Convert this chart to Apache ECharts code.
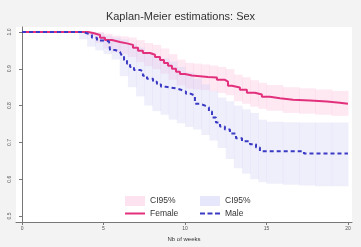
<!DOCTYPE html>
<html>
<head>
    <meta charset="utf8">
    <title>Kaplan-Meier</title>
    <script src="https://cdn.jsdelivr.net/npm/echarts@6/dist/echarts.min.js"></script>
    <style>
        body { margin: 0; background: #f3f3f3; }
    </style>
</head>
<body>
    <div id="main" style="width: 361px;height:247px;"></div>
    <script type="text/javascript">
        // survival curves (weeks / survival)
        var femaleWeeks = [0, 4.05, 4.36, 4.79, 5.09, 5.52, 6.01, 6.44, 6.81, 7.12, 7.42, 7.85, 8.16, 8.47, 8.71, 8.96, 9.2, 9.45, 9.69, 10.0, 10.43, 10.92, 11.41, 11.96, 12.45, 12.64, 12.88, 13.37, 13.8, 14.29, 14.72, 15.21, 15.83, 16.63, 17.67, 18.71, 19.5, 20];
        var femaleSurv  = [1.0, 0.997, 0.992, 0.984, 0.978, 0.973, 0.969, 0.965, 0.957, 0.949, 0.943, 0.938, 0.932, 0.924, 0.916, 0.908, 0.9, 0.892, 0.886, 0.882, 0.88, 0.878, 0.876, 0.87, 0.865, 0.854, 0.849, 0.843, 0.835, 0.83, 0.824, 0.82, 0.816, 0.814, 0.811, 0.808, 0.805, 0.805];

        var maleWeeks = [0, 3.8, 3.93, 4.29, 4.6, 5.03, 5.34, 5.4, 5.71, 6.01, 6.13, 6.26, 6.44, 6.63, 6.87, 7.24, 7.42, 7.67, 8.04, 8.28, 8.53, 8.83, 9.14, 9.45, 9.75, 10.06, 10.37, 10.61, 10.92, 11.23, 11.47, 11.66, 11.9, 12.15, 12.45, 12.76, 13.13, 13.5, 13.99, 14.36, 14.6, 17.3, 20];
        var maleSurv  = [1.0, 0.997, 0.992, 0.984, 0.977, 0.974, 0.973, 0.951, 0.946, 0.943, 0.935, 0.924, 0.914, 0.905, 0.897, 0.893, 0.881, 0.873, 0.865, 0.857, 0.851, 0.849, 0.847, 0.843, 0.838, 0.832, 0.827, 0.805, 0.8, 0.795, 0.784, 0.768, 0.754, 0.743, 0.735, 0.724, 0.711, 0.703, 0.695, 0.686, 0.676, 0.67, 0.67];

        // 95% confidence bands
        var femaleBandWeeks = [0, 4, 4.5, 5, 5.5, 6, 6.5, 7, 7.5, 8, 8.5, 9, 9.5, 10, 10.5, 11, 11.5, 12, 12.5, 13, 13.5, 14, 14.5, 15, 16, 17, 18, 19, 20];
        var femaleLow  = [1.0, 0.99, 0.97, 0.955, 0.945, 0.94, 0.932, 0.918, 0.907, 0.899, 0.887, 0.87, 0.855, 0.846, 0.844, 0.842, 0.839, 0.834, 0.828, 0.812, 0.805, 0.797, 0.791, 0.786, 0.78, 0.778, 0.775, 0.772, 0.77];
        var femaleHigh = [1.0, 1.0, 1.0, 0.995, 0.99, 0.988, 0.985, 0.978, 0.97, 0.965, 0.955, 0.94, 0.925, 0.916, 0.914, 0.912, 0.909, 0.905, 0.899, 0.884, 0.877, 0.869, 0.862, 0.856, 0.85, 0.847, 0.844, 0.84, 0.838];

        var maleBandWeeks = [0, 3.5, 4, 4.5, 5, 5.5, 6, 6.5, 7, 7.5, 8, 8.5, 9, 9.5, 10, 10.5, 11, 11.5, 12, 12.5, 13, 13.5, 14, 14.5, 15, 16, 17, 18, 19, 20];
        var maleLow  = [1.0, 0.98, 0.96, 0.95, 0.94, 0.925, 0.88, 0.85, 0.825, 0.8, 0.785, 0.775, 0.762, 0.752, 0.742, 0.735, 0.72, 0.705, 0.685, 0.655, 0.63, 0.615, 0.6, 0.592, 0.588, 0.585, 0.583, 0.581, 0.581, 0.581];
        var maleHigh = [1.0, 1.0, 1.0, 0.997, 0.99, 0.985, 0.98, 0.968, 0.958, 0.945, 0.935, 0.928, 0.92, 0.905, 0.89, 0.873, 0.858, 0.84, 0.822, 0.812, 0.8, 0.79, 0.78, 0.762, 0.756, 0.755, 0.754, 0.754, 0.754, 0.754];

        var xTicks = [0, 5, 10, 15, 20];
        var yTicks = [0.5, 0.6, 0.7, 0.8, 0.9, 1.0];

        function pairs(xs, ys) {
            return xs.map(function (x, i) { return [x, ys[i]]; });
        }
        // band rows: [from, to, low, high], one step each
        function bandRows(xs, lo, hi) {
            var rows = [];
            for (var i = 0; i < xs.length - 1; i++) {
                rows.push([xs[i], xs[i + 1], lo[i], hi[i]]);
            }
            return rows;
        }
        function bandItem(fill) {
            return function (params, api) {
                var p0 = api.coord([api.value(0), api.value(3)]);
                var p1 = api.coord([api.value(1), api.value(2)]);
                return {
                    type: 'rect',
                    shape: { x: p0[0], y: p0[1], width: p1[0] - p0[0] + 0.6, height: p1[1] - p0[1] },
                    style: { fill: fill }
                };
            };
        }

        var pinkFill = 'rgba(250, 175, 212, 0.28)';
        var lavFill = 'rgba(205, 205, 245, 0.33)';
        var femaleColor = '#e2307c';
        var maleColor = '#3a3ac4';
        var font = 'Liberation Sans, Arial, sans-serif';
        var solidIcon = 'path://M0,0h20v2h-20z';
        var dashIcon = 'path://M0,0h5v2h-5z M7.5,0h5v2h-5z M15,0h5v2h-5z';

        var myChart = echarts.init(document.getElementById('main'));
        var option = {
            backgroundColor: '#f3f3f3',
            animation: false,
            textStyle: { fontFamily: font },
            title: {
                text: 'Kaplan-Meier estimations: Sex',
                left: 'center',
                top: 6,
                textStyle: { fontSize: 11, fontWeight: 'normal', color: '#333', fontFamily: font }
            },
            grid: {
                left: 16, right: 9, top: 27, bottom: 24,
                show: true, backgroundColor: '#fff', borderWidth: 0
            },
            legend: [
                { data: [{ name: 'CI95%', icon: 'rect', itemStyle: { color: 'rgba(250,190,220,0.45)' } }],
                  left: 120, top: 191, itemWidth: 20, itemHeight: 10, selectedMode: false,
                  textStyle: { fontSize: 8.5, color: '#333' } },
                { data: [{ name: 'CI95% ', icon: 'rect', itemStyle: { color: 'rgba(215,215,248,0.6)' } }],
                  left: 195, top: 191, itemWidth: 20, itemHeight: 10, selectedMode: false,
                  textStyle: { fontSize: 8.5, color: '#333' } },
                { data: [{ name: 'Female', icon: solidIcon, itemStyle: { color: femaleColor } }],
                  left: 120, top: 204, itemWidth: 20, itemHeight: 2, selectedMode: false,
                  textStyle: { fontSize: 8.5, color: '#333' } },
                { data: [{ name: 'Male', icon: dashIcon, itemStyle: { color: maleColor } }],
                  left: 195, top: 204, itemWidth: 20, itemHeight: 2, selectedMode: false,
                  textStyle: { fontSize: 8.5, color: '#333' } }
            ],
            xAxis: {
                type: 'value',
                min: -0.37, max: 20.25,
                name: 'Nb of weeks',
                nameLocation: 'middle',
                nameGap: 14,
                nameTextStyle: { fontSize: 6, color: '#333' },
                splitLine: { show: false },
                axisLine: { lineStyle: { color: '#777' } },
                axisTick: { customValues: xTicks, length: 3, lineStyle: { color: '#777' } },
                axisLabel: { customValues: xTicks, fontSize: 5, color: '#555', margin: 4 }
            },
            yAxis: {
                type: 'value',
                min: 0.4838, max: 1.0135,
                splitLine: { show: false },
                axisLine: { show: true, lineStyle: { color: '#777' } },
                axisTick: { show: true, customValues: yTicks, length: 3, lineStyle: { color: '#777' } },
                axisLabel: {
                    customValues: yTicks, fontSize: 5, color: '#555', rotate: 90, margin: 4,
                    formatter: function (v) { return v.toFixed(1); }
                }
            },
            series: [
                { name: 'CI95%', type: 'custom', renderItem: bandItem(pinkFill),
                  itemStyle: { color: 'rgba(250,190,220,0.45)' },
                  encode: { x: [0, 1], y: [2, 3] },
                  data: bandRows(femaleBandWeeks, femaleLow, femaleHigh), silent: true, z: 1 },
                { name: 'CI95% ', type: 'custom', renderItem: bandItem(lavFill),
                  itemStyle: { color: 'rgba(215,215,248,0.6)' },
                  encode: { x: [0, 1], y: [2, 3] },
                  data: bandRows(maleBandWeeks, maleLow, maleHigh), silent: true, z: 1 },
                { name: 'Female', type: 'line', step: 'end', symbol: 'none',
                  itemStyle: { color: femaleColor },
                  lineStyle: { color: femaleColor, width: 2 },
                  data: pairs(femaleWeeks, femaleSurv), z: 5 },
                { name: 'Male', type: 'line', step: 'end', symbol: 'none',
                  itemStyle: { color: maleColor },
                  lineStyle: { color: maleColor, width: 2, type: [4, 3] },
                  data: pairs(maleWeeks, maleSurv), z: 6 }
            ]
        };
        myChart.setOption(option);
    </script>
</body>
</html>
